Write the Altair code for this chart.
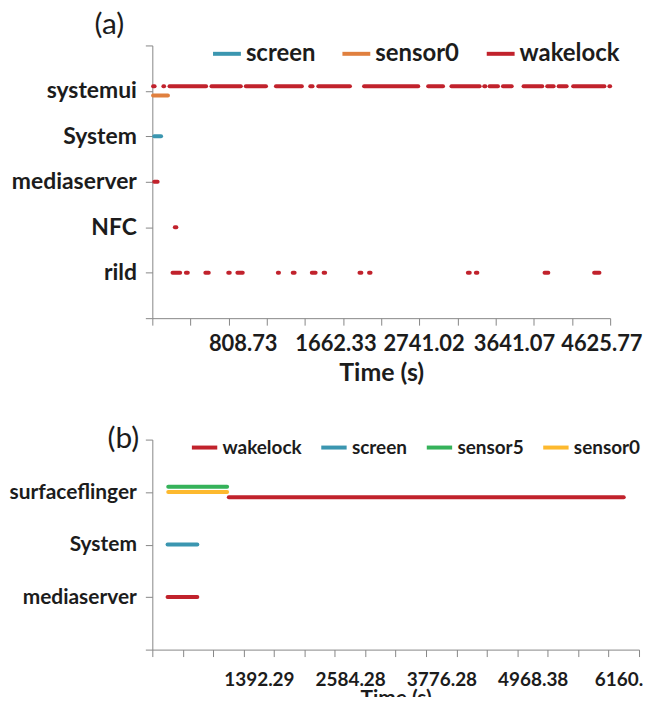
import altair as alt
import pandas as pd

FONT = "Lato"
TXT = "#1c1c1c"
AXC = "#868686"

# ---------------- Panel (a) ----------------
A_ROWS = ["rild", "NFC", "mediaserver", "System", "systemui"]      # y = 1..5
A_KINDS = ["screen", "sensor0", "wakelock"]
A_COLORS = ["#3b96b0", "#e0803f", "#c1222c"]
# x is in category-axis steps (12 tick steps across the axis)
A_XMAX = 12
A_TICKS = [0, 1, 2, 3, 4, 5, 6, 7, 8, 9, 10, 11, 12]
A_LABEL_POS = [2.37, 4.80, 7.11, 9.48, 11.77]
A_LABELS = ["808.73", "1662.33", "2741.02", "3641.07", "4625.77"]

a_systemui_wakelock = [(0.02, 0.06), (0.29, 0.31), (0.45, 1.41), (1.55, 2.32), (2.45, 2.98),
                       (3.24, 3.92), (4.14, 4.20), (4.35, 5.18), (5.55, 6.97), (7.23, 7.62),
                       (7.84, 8.58), (8.70, 8.73), (8.84, 9.06), (9.19, 9.42), (9.73, 10.22),
                       (10.35, 10.52), (10.65, 10.86), (11.03, 11.85), (11.98, 12.0)]
a_systemui_sensor0 = [(0.02, 0.41)]
a_system_screen = [(0.05, 0.23)]
a_mediaserver_wakelock = [(0.05, 0.14)]
a_nfc_wakelock = [(0.59, 0.63)]
a_rild_wakelock = [(0.53, 0.73), (0.88, 0.93), (1.39, 1.48), (1.99, 2.03), (2.23, 2.37),
                   (3.29, 3.32), (3.68, 3.73), (4.18, 4.28), (4.49, 4.53), (5.43, 5.48),
                   (5.68, 5.72), (8.27, 8.32), (8.48, 8.52), (10.28, 10.38), (11.58, 11.72)]

# (row, kind, lane offset, segments)
A_SERIES = [
    ("systemui", "sensor0", -0.1, a_systemui_sensor0),
    ("systemui", "wakelock", 0.1, a_systemui_wakelock),
    ("System", "screen", 0.0, a_system_screen),
    ("mediaserver", "wakelock", 0.0, a_mediaserver_wakelock),
    ("NFC", "wakelock", 0.0, a_nfc_wakelock),
    ("rild", "wakelock", 0.0, a_rild_wakelock),
]

# ---------------- Panel (b) ----------------
B_ROWS = ["mediaserver", "System", "surfaceflinger"]                 # y = 1..3
B_KINDS = ["wakelock", "screen", "sensor5", "sensor0"]
B_COLORS = ["#c1222c", "#3b96b0", "#35b25a", "#fdb92e"]
B_XMAX = 6357.3
B_TICKS = [0, 397.33, 794.66, 1191.99, 1589.32, 1986.65, 2383.98, 2781.31, 3178.64,
           3575.97, 3973.3, 4370.63, 4767.96, 5165.29, 5562.62, 5959.95, 6357.3]
B_LABEL_POS = [1392.29, 2584.28, 3776.28, 4968.38, 6160.5]
B_LABELS = ["1392.29", "2584.28", "3776.28", "4968.38", "6160.5"]

b_surfaceflinger_sensor5 = [(208, 977)]
b_surfaceflinger_sensor0 = [(208, 977)]
b_surfaceflinger_wakelock = [(999, 6158)]
b_system_screen = [(199, 588)]
b_mediaserver_wakelock = [(199, 588)]

B_SERIES = [
    ("surfaceflinger", "sensor5", 0.1, b_surfaceflinger_sensor5),
    ("surfaceflinger", "sensor0", 0.0, b_surfaceflinger_sensor0),
    ("surfaceflinger", "wakelock", -0.1, b_surfaceflinger_wakelock),
    ("System", "screen", 0.0, b_system_screen),
    ("mediaserver", "wakelock", 0.0, b_mediaserver_wakelock),
]


def frame(rows, series):
    recs = []
    for row, kind, off, segs in series:
        for s, e in segs:
            recs.append({"row": row, "kind": kind, "y": rows.index(row) + 1 + off,
                         "start": s, "end": e})
    return pd.DataFrame(recs)


def js_list(items):
    return "[" + ",".join(repr(i) for i in items) + "]"


def panel(df, rows, kinds, colors, xmax, ticks, label_pos, labels, fs_y, fs_x, fs_t, fs_l,
          lab_pad, tit_pad, title, title_dx, title_dy, leg_x, leg_y, col_pad, width, height,
          sym):
    ymax = len(rows) + 1
    ylab = js_list([""] + rows + [""])
    xlab = f"{js_list(labels)}[indexof({js_list(label_pos)}, datum.value)]"
    xscale = alt.Scale(domain=[0, xmax], nice=False, zero=False)
    lines = alt.Chart(df).mark_rule(strokeWidth=4, strokeCap="round").encode(
        x=alt.X("start:Q", scale=xscale,
                axis=alt.Axis(orient="bottom", values=label_pos, labelExpr=xlab, domain=False,
                              ticks=False, tickSize=0, grid=False, labelFlush=False,
                              labelOverlap=False, labelFont=FONT, labelFontSize=fs_x,
                              labelFontWeight="bold", labelColor=TXT, labelPadding=lab_pad,
                              title="Time (s)", titleFont=FONT, titleFontSize=fs_t,
                              titleFontWeight="bold", titleColor=TXT, titlePadding=tit_pad)),
        x2="end:Q",
        y=alt.Y("y:Q", scale=alt.Scale(domain=[0, ymax], nice=False, zero=False),
                axis=alt.Axis(values=list(range(ymax + 1)), labelExpr=f"{ylab}[datum.value]",
                              grid=False, title=None, tickSize=7, tickColor=AXC,
                              domainColor=AXC, labelFont=FONT, labelFontSize=fs_y,
                              labelFontWeight="bold", labelColor=TXT, labelPadding=9)),
        color=alt.Color("kind:N", scale=alt.Scale(domain=kinds, range=colors),
                        legend=alt.Legend(orient="none", legendX=leg_x, legendY=leg_y,
                                          direction="horizontal", title=None,
                                          symbolType="stroke", symbolSize=sym,
                                          symbolStrokeWidth=4, labelFont=FONT,
                                          labelFontSize=fs_l, labelFontWeight="bold",
                                          labelColor=TXT, labelOffset=3,
                                          columnPadding=col_pad, padding=0)),
    )
    tick_layer = alt.Chart(df).mark_point(opacity=0).encode(
        x=alt.X("start:Q", scale=xscale,
                axis=alt.Axis(orient="bottom", values=ticks, labels=False, domain=True,
                              ticks=True, tickSize=7, tickColor=AXC, domainColor=AXC,
                              grid=False, title=None)),
    )
    return alt.layer(lines, tick_layer).resolve_axis(x="independent").properties(
        width=width, height=height,
        title=alt.TitleParams(title, anchor="start", frame="group", dx=title_dx, dy=title_dy,
                              font=FONT, fontSize=30, fontWeight="normal", color=TXT,
                              offset=-2),
    )


pa = panel(frame(A_ROWS, A_SERIES), A_ROWS, A_KINDS, A_COLORS, A_XMAX, A_TICKS,
           A_LABEL_POS, A_LABELS, 23, 22, 25, 24, 15, 7,
           "(a)", -58, 0, 59, -7.6, 19, 460, 274, 784)
pb = panel(frame(B_ROWS, B_SERIES), B_ROWS, B_KINDS, B_COLORS, B_XMAX, B_TICKS,
           B_LABEL_POS, B_LABELS, 21, 19, 21, 19, 21, -2,
           "(b)", -45, 19, 37.5, -7, 11, 489, 211, 650)

chart = alt.vconcat(pa, pb, spacing=38).resolve_scale(color="independent").properties(
    padding={"left": 0, "top": 0, "right": -11, "bottom": -13}
).configure_view(strokeWidth=0)

chart.save("out.html", embed_options={"renderer": "svg", "actions": False})
